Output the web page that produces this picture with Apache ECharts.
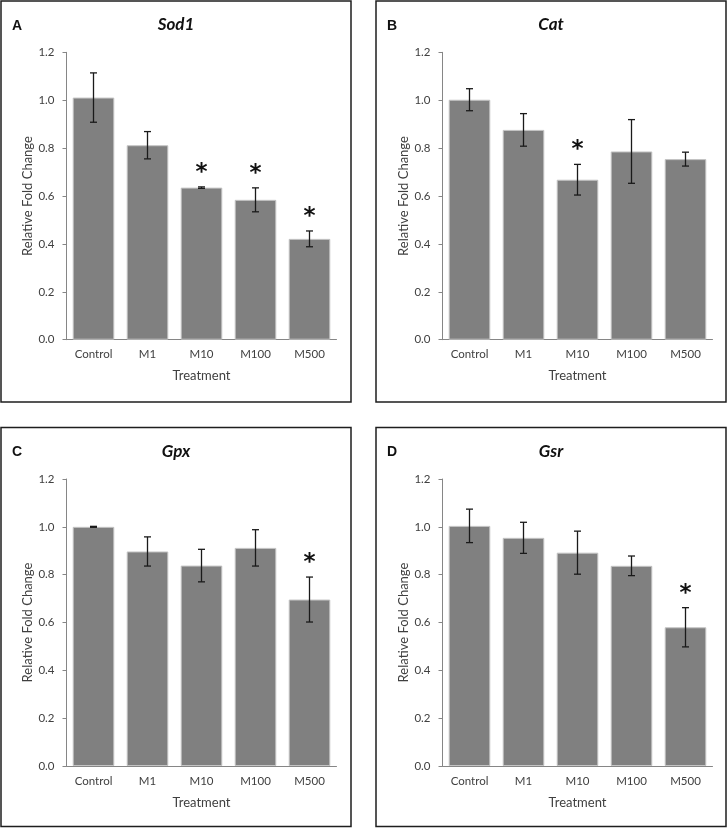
<!DOCTYPE html>
<html>
<head>
<meta charset="utf-8">
<script src="https://cdn.jsdelivr.net/npm/echarts@6/dist/echarts.min.js"></script>
<style>
html,body{margin:0;padding:0;background:#fff;}
#chart{width:728px;height:829px;}
</style>
</head>
<body>
<div id="chart"></div>
<script>
// ---- data ----
const categories = ['Control', 'M1', 'M10', 'M100', 'M500'];
const yTicks = [0, 0.2, 0.4, 0.6, 0.8, 1.0, 1.2];

const sod1Mean = [1.011, 0.812, 0.635, 0.584, 0.421];
const sod1Err  = [0.103, 0.057, 0.003, 0.050, 0.033];
const sod1Sig  = [0, 0, 1, 1, 1];

const catMean = [1.002, 0.876, 0.668, 0.786, 0.754];
const catErr  = [0.046, 0.068, 0.064, 0.133, 0.029];
const catSig  = [0, 0, 1, 0, 0];

const gpxMean = [1.000, 0.897, 0.838, 0.912, 0.696];
const gpxErr  = [0.002, 0.061, 0.068, 0.076, 0.094];
const gpxSig  = [0, 0, 0, 0, 1];

const gsrMean = [1.004, 0.954, 0.892, 0.837, 0.580];
const gsrErr  = [0.070, 0.065, 0.090, 0.041, 0.082];
const gsrSig  = [0, 0, 0, 0, 1];

const panelLetters = ['A', 'B', 'C', 'D'];
const geneNames = ['Sod1', 'Cat', 'Gpx', 'Gsr'];
const xAxisTitle = 'Treatment';
const yAxisTitle = 'Relative Fold Change';

// ---- layout ----
const panels = [
  {mean: sod1Mean, err: sod1Err, sig: sod1Sig, box: [1, 1, 350, 401], grid: {left: 66.5, top: 52.3, width: 270, height: 287.4}},
  {mean: catMean,  err: catErr,  sig: catSig,  box: [376, 1, 350, 401], grid: {left: 442.5, top: 52.3, width: 270, height: 287.4}},
  {mean: gpxMean,  err: gpxErr,  sig: gpxSig,  box: [1, 427.5, 350, 399], grid: {left: 66.5, top: 479, width: 270, height: 287}},
  {mean: gsrMean,  err: gsrErr,  sig: gsrSig,  box: [376, 427.5, 350, 399], grid: {left: 442.5, top: 479, width: 270, height: 287}}
];

const FONT = 'Lato';
const grids = [], xAxes = [], yAxes = [], series = [], graphics = [];

panels.forEach((p, i) => {
  grids.push(Object.assign({containLabel: false}, p.grid));
  xAxes.push({
    type: 'category', gridIndex: i, data: categories,
    name: xAxisTitle, nameLocation: 'middle', nameGap: 30,
    nameTextStyle: {fontFamily: FONT, fontSize: 13, color: '#404040'},
    axisLine: {lineStyle: {color: '#868686', width: 1}},
    axisTick: {show: false},
    axisLabel: {fontFamily: FONT, fontSize: 11.5, color: '#404040', margin: 9}
  });
  yAxes.push({
    type: 'value', gridIndex: i, min: 0, max: 1.2, interval: 0.2,
    name: yAxisTitle, nameLocation: 'middle', nameGap: 32,
    nameTextStyle: {fontFamily: FONT, fontSize: 13, color: '#404040'},
    axisLine: {show: true, lineStyle: {color: '#868686', width: 1}},
    axisTick: {show: true, length: 4, lineStyle: {color: '#868686'}},
    splitLine: {show: false},
    axisLabel: {fontFamily: FONT, fontSize: 11.5, color: '#404040', margin: 12,
      formatter: v => v.toFixed(1)}
  });
  series.push({
    type: 'bar', xAxisIndex: i, yAxisIndex: i, data: p.mean,
    barCategoryGap: '23%',
    itemStyle: {color: '#808080', borderColor: '#c4c4c4', borderWidth: 1},
    silent: true, animation: false
  });
  const edata = p.mean.map((m, k) => [k, m, p.err[k], p.sig[k]]);
  series.push({
    type: 'custom', xAxisIndex: i, yAxisIndex: i, data: edata, z: 10, animation: false, silent: true,
    renderItem: function (params, api) {
      const x = api.value(0), m = api.value(1), e = api.value(2), s = api.value(3);
      const top = api.coord([x, m + e]);
      const bot = api.coord([x, m - e]);
      const hw = 3.5;
      const style = {stroke: '#1a1a1a', lineWidth: 1.3};
      const children = [
        {type: 'line', shape: {x1: top[0], y1: top[1], x2: bot[0], y2: bot[1]}, style},
        {type: 'line', shape: {x1: top[0] - hw, y1: top[1], x2: top[0] + hw, y2: top[1]}, style},
        {type: 'line', shape: {x1: bot[0] - hw, y1: bot[1], x2: bot[0] + hw, y2: bot[1]}, style}
      ];
      if (s) {
        children.push({type: 'text', x: top[0], y: top[1] - 14,
          style: {text: '*', font: 'bold 23px "DejaVu Sans"', fill: '#111', align: 'center', verticalAlign: 'middle'}});
      }
      return {type: 'group', children};
    }
  });
  const b = p.box;
  graphics.push({type: 'rect', shape: {x: b[0], y: b[1], width: b[2], height: b[3]},
    style: {fill: null, stroke: '#1e1e1e', lineWidth: 1.5}, silent: true});
  graphics.push({type: 'text', x: b[0] + 11, y: b[1] + 25,
    style: {text: panelLetters[i], font: 'bold 14px "Liberation Sans"', fill: '#111', verticalAlign: 'middle'}});
  graphics.push({type: 'text', x: b[0] + b[2] / 2, y: b[1] + 24,
    style: {text: geneNames[i], font: 'italic bold 17px Lato', fill: '#111', align: 'center', verticalAlign: 'middle'}});
});

const chart = echarts.init(document.getElementById('chart'));
chart.setOption({
  animation: false,
  grid: grids, xAxis: xAxes, yAxis: yAxes, series: series, graphic: graphics
});
</script>
</body>
</html>
